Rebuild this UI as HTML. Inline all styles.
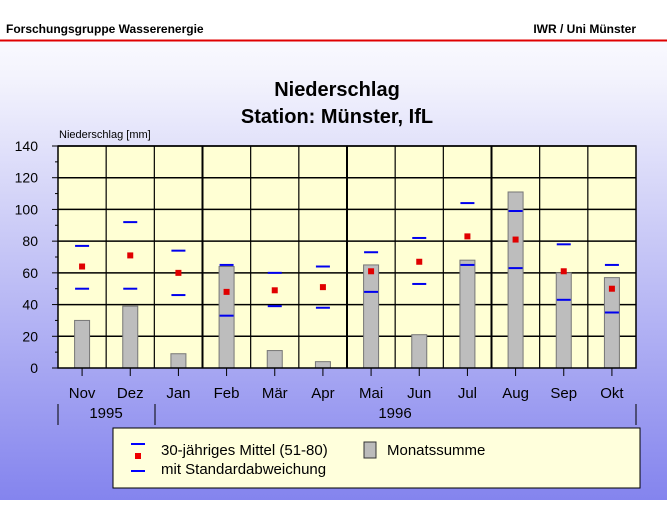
<!DOCTYPE html>
<html><head><meta charset="utf-8"><style>
body{margin:0;width:667px;height:500px;overflow:hidden;font-family:"Liberation Sans",sans-serif;}
</style></head><body>
<svg width="667" height="500" xmlns="http://www.w3.org/2000/svg" font-family="Liberation Sans, sans-serif">
<defs><linearGradient id="bg" x1="0" y1="0" x2="0" y2="1">
<stop offset="0" stop-color="#ffffff"/><stop offset="0.15" stop-color="#f4f4fd"/><stop offset="0.5" stop-color="#c6c6f6"/><stop offset="1" stop-color="#8484ee"/></linearGradient></defs>
<rect x="0" y="0" width="667" height="500" fill="url(#bg)"/>
<rect x="0" y="0" width="667" height="40" fill="#fff"/>
<line x1="0" y1="40.5" x2="667" y2="40.5" stroke="#e00000" stroke-width="2"/>
<text x="6" y="33" font-size="12" font-weight="bold">Forschungsgruppe Wasserenergie</text>
<text x="636" y="33" font-size="12" font-weight="bold" text-anchor="end">IWR / Uni Münster</text>
<text x="337" y="96" font-size="20" font-weight="bold" text-anchor="middle">Niederschlag</text>
<text x="337" y="123" font-size="20" font-weight="bold" text-anchor="middle">Station: Münster, IfL</text>
<text x="59" y="138" font-size="11">Niederschlag [mm]</text>
<rect x="58" y="146" width="578" height="222" fill="#ffffd4"/>
<g id="chart"></g>
<rect x="113" y="428" width="527" height="60" fill="#ffffdc" stroke="#000" stroke-width="1"/>
<line x1="131" y1="444" x2="145" y2="444" stroke="#00f" stroke-width="2"/>
<rect x="135" y="453" width="6" height="6" fill="#e00"/>
<line x1="131" y1="471" x2="145" y2="471" stroke="#00f" stroke-width="2"/>
<text x="161" y="455" font-size="15">30-jähriges Mittel (51-80)</text>
<text x="161" y="474" font-size="15">mit Standardabweichung</text>
<rect x="364" y="442" width="12" height="16" fill="#bbb" stroke="#333"/>
<text x="387" y="455" font-size="15">Monatssumme</text>
</svg>
<script>
var g=document.getElementById('chart'),ns='http://www.w3.org/2000/svg',h='';
var L=58,T=146,B=368,W=578/12,s=222/140;
function y(v){return B-v*s;}
var m=['Nov','Dez','Jan','Feb','Mär','Apr','Mai','Jun','Jul','Aug','Sep','Okt'];
var bar=[30,39,9,64,11,4,65,21,68,111,60,57];
var mean=[64,71,60,48,49,51,61,67,83,81,61,50];
var up=[77,92,74,65,60,64,73,82,104,99,78,65];
var lo=[50,50,46,33,39,38,48,53,65,63,43,35];
for(var v=20;v<=140;v+=20)h+='<line x1="'+L+'" x2="636" y1="'+y(v)+'" y2="'+y(v)+'" stroke="#000" stroke-width="1.5"/>';
for(var i=1;i<12;i++){var x=L+i*W;h+='<line x1="'+x+'" x2="'+x+'" y1="'+T+'" y2="'+B+'" stroke="#000" stroke-width="'+(i%3==0?2:1.2)+'"/>';}
for(var i=0;i<12;i++){var c=L+(i+.5)*W;
h+='<rect x="'+(c-7.5)+'" y="'+y(bar[i])+'" width="15" height="'+(bar[i]*s)+'" fill="#bdbdbd" stroke="#777"/>';
h+='<line x1="'+(c-7)+'" x2="'+(c+7)+'" y1="'+y(up[i])+'" y2="'+y(up[i])+'" stroke="#0000ee" stroke-width="2"/>';
h+='<line x1="'+(c-7)+'" x2="'+(c+7)+'" y1="'+y(lo[i])+'" y2="'+y(lo[i])+'" stroke="#0000ee" stroke-width="2"/>';
h+='<rect x="'+(c-3)+'" y="'+(y(mean[i])-3)+'" width="6" height="6" fill="#e00000"/>';
h+='<line x1="'+c+'" x2="'+c+'" y1="'+B+'" y2="'+(B+8)+'" stroke="#000"/>';
h+='<text x="'+c+'" y="398" font-size="15" text-anchor="middle">'+m[i]+'</text>';}
for(var v=0;v<=140;v+=10){h+='<line x1="'+(L-(v%20?3:6))+'" x2="'+L+'" y1="'+y(v)+'" y2="'+y(v)+'" stroke="#000"/>';
if(v%20==0)h+='<text x="'+(L-20)+'" y="'+(y(v)+5)+'" font-size="14" text-anchor="end">'+v+'</text>';}
h+='<rect x="'+L+'" y="'+T+'" width="578" height="222" fill="none" stroke="#000" stroke-width="1.5"/>';
h+='<line x1="58" x2="58" y1="404" y2="425" stroke="#000"/><line x1="155" x2="155" y1="404" y2="425" stroke="#000"/><line x1="636" x2="636" y1="404" y2="425" stroke="#000"/>';
h+='<text x="106" y="418" font-size="15" text-anchor="middle">1995</text><text x="395" y="418" font-size="15" text-anchor="middle">1996</text>';
g.innerHTML=h;
</script>
</body></html>
